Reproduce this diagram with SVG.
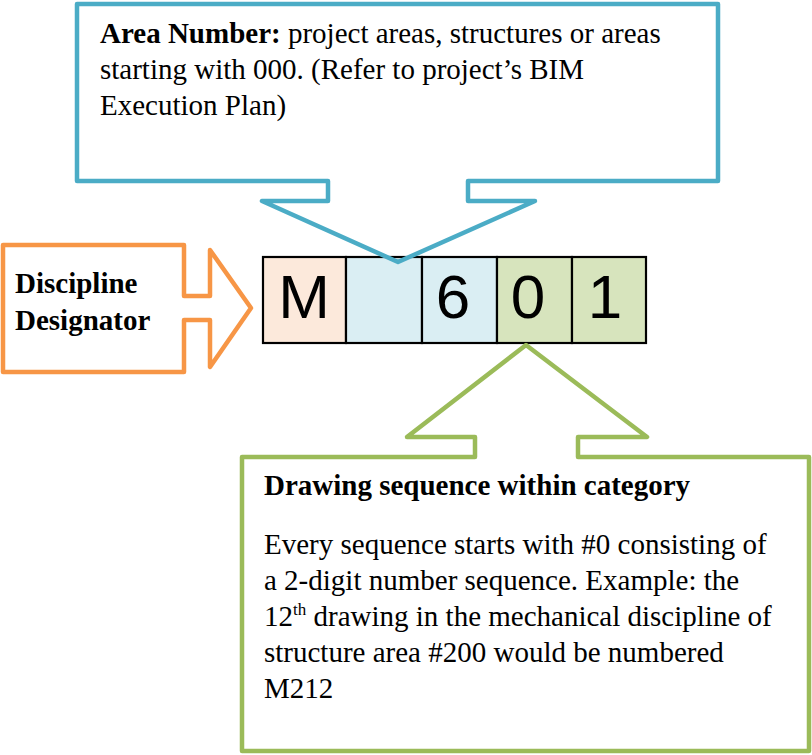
<svg xmlns="http://www.w3.org/2000/svg" width="812" height="755" viewBox="0 0 812 755">
<style>
.serif{font-family:"Liberation Serif","Times New Roman",serif;font-size:29px;fill:#000}
.b{font-weight:bold}
.sans{font-family:"Liberation Sans",Arial,sans-serif;font-size:62px;fill:#000;text-anchor:middle}
.cell{stroke:#000;stroke-width:2.2}
.call{fill:none;stroke-width:4.5;stroke-linejoin:round}
</style>
<rect width="812" height="755" fill="#fff"/>
<g id="code-boxes">
  <rect class="cell" x="263" y="257" width="83" height="86" fill="#FCE9DB"/>
  <rect class="cell" x="346" y="257" width="76" height="86" fill="#DAEEF3"/>
  <rect class="cell" x="422" y="257" width="75" height="86" fill="#DAEEF3"/>
  <rect class="cell" x="497" y="257" width="75" height="86" fill="#D7E4BD"/>
  <rect class="cell" x="572" y="257" width="74" height="86" fill="#D7E4BD"/>
  <text class="sans" x="304" y="318">M</text>
  <text class="sans" x="453" y="318">6</text>
  <text class="sans" x="528" y="318">0</text>
  <text class="sans" x="605" y="318">1</text>
</g>
<g id="area-number">
  <path class="call" stroke="#4BACC6" d="M77,4 H718 V181 H468 V201 H535 L398,262 L262,201 H328 V181 H77 Z"/>
  <text class="serif" x="100" y="43"><tspan class="b">Area Number:</tspan> project areas, structures or areas</text>
  <text class="serif" x="100" y="79">starting with 000. (Refer to project’s BIM</text>
  <text class="serif" x="100" y="115">Execution Plan)</text>
</g>
<g id="discipline-designator">
  <path class="call" stroke="#F79646" d="M3,245 H184 V296 H210 V250 L251,308 L210,367 V320 H184 V372 H3 Z"/>
  <text class="serif b" x="15" y="293">Discipline</text>
  <text class="serif b" x="15" y="330">Designator</text>
</g>
<g id="drawing-sequence">
  <path class="call" stroke="#9BBB59" d="M242,457 H475 V437 H407 L526,345 L647,437 H578 V457 H809 V751 H242 Z"/>
  <text class="serif b" x="264" y="495">Drawing sequence within category</text>
  <text class="serif" x="264" y="554">Every sequence starts with #0 consisting of</text>
  <text class="serif" x="264" y="590">a 2-digit number sequence. Example: the</text>
  <text class="serif" x="264" y="626">12<tspan font-size="17" dy="-11">th</tspan><tspan dy="11"> drawing in the mechanical discipline of</tspan></text>
  <text class="serif" x="264" y="662">structure area #200 would be numbered</text>
  <text class="serif" x="264" y="698">M212</text>
</g>
<g id="connectors"/>
</svg>
